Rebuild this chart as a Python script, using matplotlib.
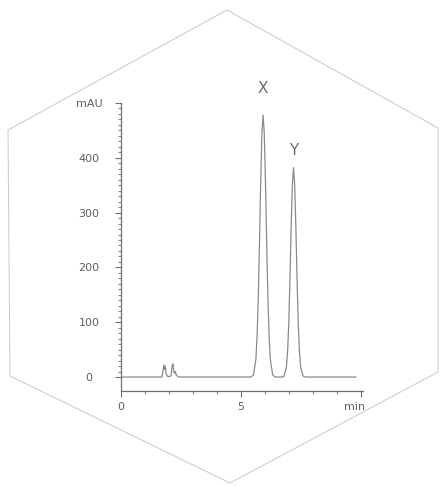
import matplotlib.pyplot as plt
from matplotlib.patches import Polygon
from matplotlib.transforms import ScaledTranslation

# chromatogram trace (time in min, signal in mAU)
time = [0.00, 1.60, 1.70, 1.76, 1.79, 1.82, 1.85, 1.88, 1.95, 2.05, 2.10, 2.13, 2.17,
        2.21, 2.24, 2.27, 2.31, 2.40, 5.30, 5.43, 5.53, 5.63, 5.68, 5.73, 5.78, 5.83,
        5.88, 5.93, 5.98, 6.03, 6.08, 6.13, 6.18, 6.23, 6.33, 6.43, 6.75, 6.80, 6.90,
        6.95, 7.00, 7.05, 7.10, 7.15, 7.20, 7.25, 7.30, 7.35, 7.40, 7.45, 7.50, 7.60,
        7.70, 9.80]
signal = [0, 0, 0, 12, 22, 14, 20, 6, 1, 1, 4, 20, 24,
          8, 7, 10, 3, 0, 0, 0, 4, 33, 75, 146, 245, 355,
          444, 478, 444, 355, 245, 146, 75, 33, 4, 0, 0, 1.5, 17,
          44, 95, 175, 270, 350, 382, 350, 270, 175, 95, 44, 17, 1.5,
          0, 0]

peak_names = ['X', 'Y']
peak_times = [5.93, 7.20]
label_heights = [527, 414]

y_ticks = [0, 100, 200, 300, 400, 500]
y_labels = ['0', '100', '200', '300', '400', 'mAU']
x_ticks = [0, 5, 10]
x_labels = ['0', '5', 'min']

W, H = 440, 486
fig = plt.figure(figsize=(W / 100, H / 100), dpi=100, facecolor='white')

# hexagon frame, drawn in pixel coords on a background axes
bg = fig.add_axes([0, 0, 1, 1])
bg.set_xlim(0, W)
bg.set_ylim(H, 0)
bg.axis('off')
hexagon = [(227, 10), (438, 128), (438, 372), (230, 483), (10, 376), (8, 130)]
bg.add_patch(Polygon(hexagon, closed=True, fill=False, ec='#c8c8c8', lw=0.7))

ax = fig.add_axes([121 / W, 95 / H, (363 - 121) / W, (391 - 103) / H])
ax.patch.set_alpha(0)
ax.plot(time, signal, color='#8a8a8a', lw=0.9)

ax.set_xlim(0, 10.1)
ax.set_ylim(-25.5, 500)
for side in ['top', 'right']:
    ax.spines[side].set_visible(False)
for side in ['left', 'bottom']:
    ax.spines[side].set_color('#707070')
    ax.spines[side].set_linewidth(0.9)

ax.set_yticks(y_ticks)
ax.set_yticklabels(y_labels)
ax.set_yticks(range(0, 500, 10), minor=True)
ax.set_xticks(x_ticks)
ax.set_xticklabels(x_labels)
ax.set_xticks(range(0, 11), minor=True)

ax.tick_params(axis='both', which='major', length=4, width=0.8, color='#707070',
               labelsize=8, labelcolor='#606060')
ax.tick_params(axis='both', which='minor', length=2, width=0.8, color='#8a8a8a')
ax.tick_params(axis='y', which='major', pad=19)
ax.tick_params(axis='x', which='major', pad=4)
for lab in ax.get_yticklabels():
    lab.set_horizontalalignment('center')
# the 'min' label sits a little left of its tick
ax.get_xticklabels()[-1].set_transform(
    ax.get_xticklabels()[-1].get_transform() + ScaledTranslation(-0.06, 0, fig.dpi_scale_trans))

for name, t, h in zip(peak_names, peak_times, label_heights):
    ax.text(t, h, name, ha='center', va='center', fontsize=11,
            color='#6a6a6a', clip_on=False)

fig.savefig('out.png', dpi=100, facecolor='white')
